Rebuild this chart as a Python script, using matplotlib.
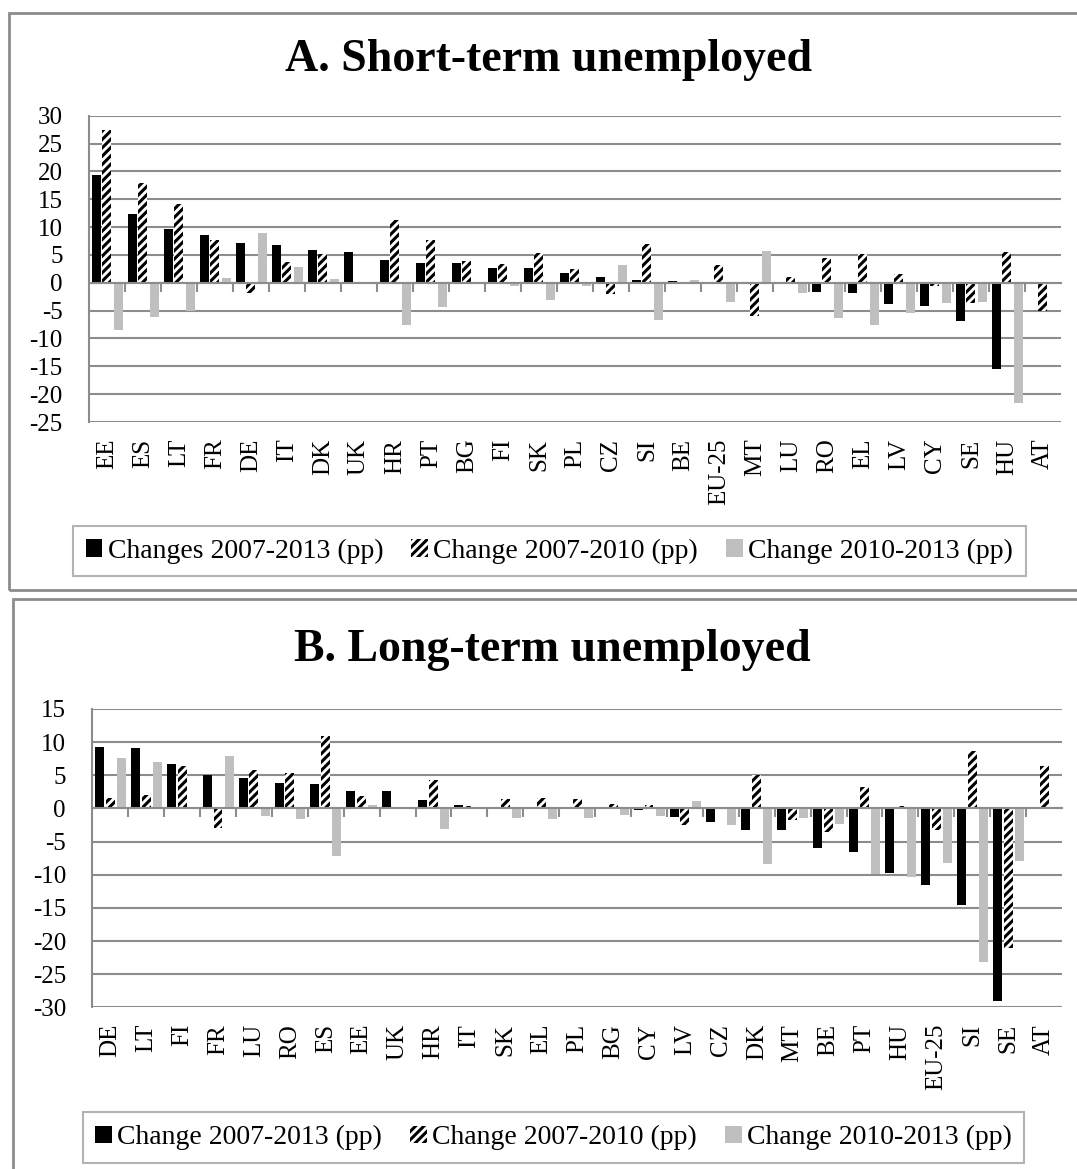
import numpy as np
import matplotlib
matplotlib.use("Agg")
import matplotlib.pyplot as plt
from matplotlib.patches import Rectangle, Patch

plt.rcParams['font.family'] = ['Liberation Serif', 'DejaVu Serif']
plt.rcParams['hatch.linewidth'] = 2.2
plt.rcParams['axes.unicode_minus'] = False

# Panel A: short-term unemployed
cats_a = ["EE", "ES", "LT", "FR", "DE", "IT", "DK", "UK", "HR", "PT", "BG", "FI", "SK",
          "PL", "CZ", "SI", "BE", "EU-25", "MT", "LU", "RO", "EL", "LV", "CY", "SE", "HU", "AT"]
a_0713 = [19.4, 12.3, 9.6, 8.5, 7.1, 6.8, 5.9, 5.6, 4.1, 3.6, 3.5, 2.7, 2.6,
          1.8, 1.0, 0.5, 0.4, 0.1, 0.0, -0.3, -1.7, -1.9, -3.8, -4.2, -6.8, -15.4, 0.0]
a_0710 = [27.5, 18.0, 14.1, 7.6, -1.8, 3.8, 5.2, 0.0, 11.2, 7.7, 4.0, 3.3, 5.4,
          2.4, -2.1, 6.9, 0.0, 3.2, -5.9, 1.0, 4.4, 5.2, 1.5, -0.6, -3.7, 5.5, -5.0]
a_1013 = [-8.5, -6.2, -5.0, 0.8, 8.9, 2.9, 0.7, 0.0, -7.6, -4.4, -0.2, -0.5, -3.1,
          -0.6, 3.2, -6.7, 0.5, -3.4, 5.7, -1.9, -6.4, -7.6, -5.5, -3.7, -3.4, -21.5, 0.0]

# Panel B: long-term unemployed
cats_b = ["DE", "LT", "FI", "FR", "LU", "RO", "ES", "EE", "UK", "HR", "IT", "SK", "EL",
          "PL", "BG", "CY", "LV", "CZ", "DK", "MT", "BE", "PT", "HU", "EU-25", "SI", "SE", "AT"]
b_0713 = [9.25, 9.05, 6.7, 5.0, 4.6, 3.9, 3.7, 2.6, 2.6, 1.3, 0.45, 0.1, 0.05,
          0.0, 0.0, -0.25, -1.35, -2.1, -3.2, -3.3, -5.9, -6.5, -9.8, -11.5, -14.5, -29.0, 0.0]
b_0710 = [1.65, 2.05, 6.4, -3.0, 5.8, 5.4, 10.9, 1.9, 0.0, 4.3, 0.3, 1.35, 1.55,
          1.35, 0.65, 0.55, -2.5, 0.25, 5.0, -1.75, -3.6, 3.3, 0.4, -3.3, 8.65, -21.1, 6.4]
b_1013 = [7.55, 6.95, 0.0, 7.95, -1.2, -1.6, -7.2, 0.55, 0.0, -3.1, 0.0, -1.4, -1.65,
          -1.5, -1.0, -1.15, 1.05, -2.45, -8.4, -1.5, -2.35, -9.9, -10.4, -8.3, -23.2, -7.9, 0.0]

GRID = '#8c8c8c'
LIGHT = '#bfbfbf'


def draw_panel(ax, cats, s1, s2, s3, ymin, ymax):
    x = np.arange(len(cats))
    w = 0.25
    ax.bar(x - 0.3, s1, w, color='black', zorder=3)
    ax.bar(x, s2, w, facecolor='white', edgecolor='black', hatch='////', linewidth=0, zorder=3)
    ax.bar(x + 0.31, s3, w, color=LIGHT, zorder=3)

    ax.set_xlim(-0.5, len(cats) - 0.5)
    ax.set_ylim(ymin, ymax)
    ax.set_yticks(range(ymin, ymax + 1, 5))
    ax.yaxis.grid(True, color=GRID, lw=1.5)
    ax.set_axisbelow(True)
    ax.tick_params(axis='y', length=0, pad=19, labelsize=18)

    for s in ['top', 'right']:
        ax.spines[s].set_visible(False)
    ax.spines['left'].set_color(GRID)
    ax.spines['left'].set_linewidth(1.5)
    ax.spines['bottom'].set_position(('data', 0))
    ax.spines['bottom'].set_color(GRID)
    ax.spines['bottom'].set_linewidth(1.5)
    ax.spines['bottom'].set_zorder(4)
    ax.set_xticks(np.arange(0.5, len(cats) - 1, 1))
    ax.tick_params(axis='x', direction='out', length=6.5, width=1.5, color=GRID,
                   labelbottom=False)

    sec = ax.secondary_xaxis('bottom')
    sec.set_xticks(x)
    sec.set_xticklabels(cats, rotation=90, fontsize=18, va='top')
    sec.tick_params(length=0, pad=12)
    sec.spines['bottom'].set_visible(False)


fig = plt.figure(figsize=(10.77, 11.69), dpi=100)

ax_a = fig.add_axes([0.0826, 0.639, 0.9025, 0.262])
draw_panel(ax_a, cats_a, a_0713, a_0710, a_1013, -25, 30)
ax_b = fig.add_axes([0.0857, 0.1383, 0.9004, 0.2552])
draw_panel(ax_b, cats_b, b_0713, b_0710, b_1013, -30, 15)

fig.text(0.509, 0.9487, "A. Short-term unemployed", ha='center', va='center',
         fontsize=33, fontweight='bold')
fig.text(0.5125, 0.444, "B. Long-term unemployed", ha='center', va='center',
         fontsize=33, fontweight='bold')

# panel frames
fig.add_artist(Rectangle((9 / 1077, 1 - 590 / 1169), 1.2, (590 - 13) / 1169,
                         transform=fig.transFigure, fill=False, edgecolor=GRID, lw=2))
fig.add_artist(Rectangle((13 / 1077, -0.05), 1.2, 1 - 599 / 1169 + 0.05,
                         transform=fig.transFigure, fill=False, edgecolor=GRID, lw=2))


def handles():
    return [Patch(facecolor='black'),
            Patch(facecolor='white', edgecolor='black', hatch='////', linewidth=0),
            Patch(facecolor=LIGHT)]


leg_kw = dict(loc='center', ncol=3, frameon=True, fancybox=False, fontsize=20,
              handlelength=0.6, handleheight=0.6, handletextpad=0.2,
              columnspacing=1.0, borderpad=0.45, edgecolor='#a0a0a0')
la = fig.legend(handles(), ["Changes 2007-2013 (pp)", "Change 2007-2010 (pp)",
                            "Change 2010-2013 (pp)"],
                bbox_to_anchor=(0.510, 0.5287), **leg_kw)
la.get_frame().set_linewidth(1.5)
lb = fig.legend(handles(), ["Change 2007-2013 (pp)", "Change 2007-2010 (pp)",
                            "Change 2010-2013 (pp)"],
                bbox_to_anchor=(0.514, 0.0269), **leg_kw)
lb.get_frame().set_linewidth(1.5)

fig.savefig("out.png", dpi=100)
